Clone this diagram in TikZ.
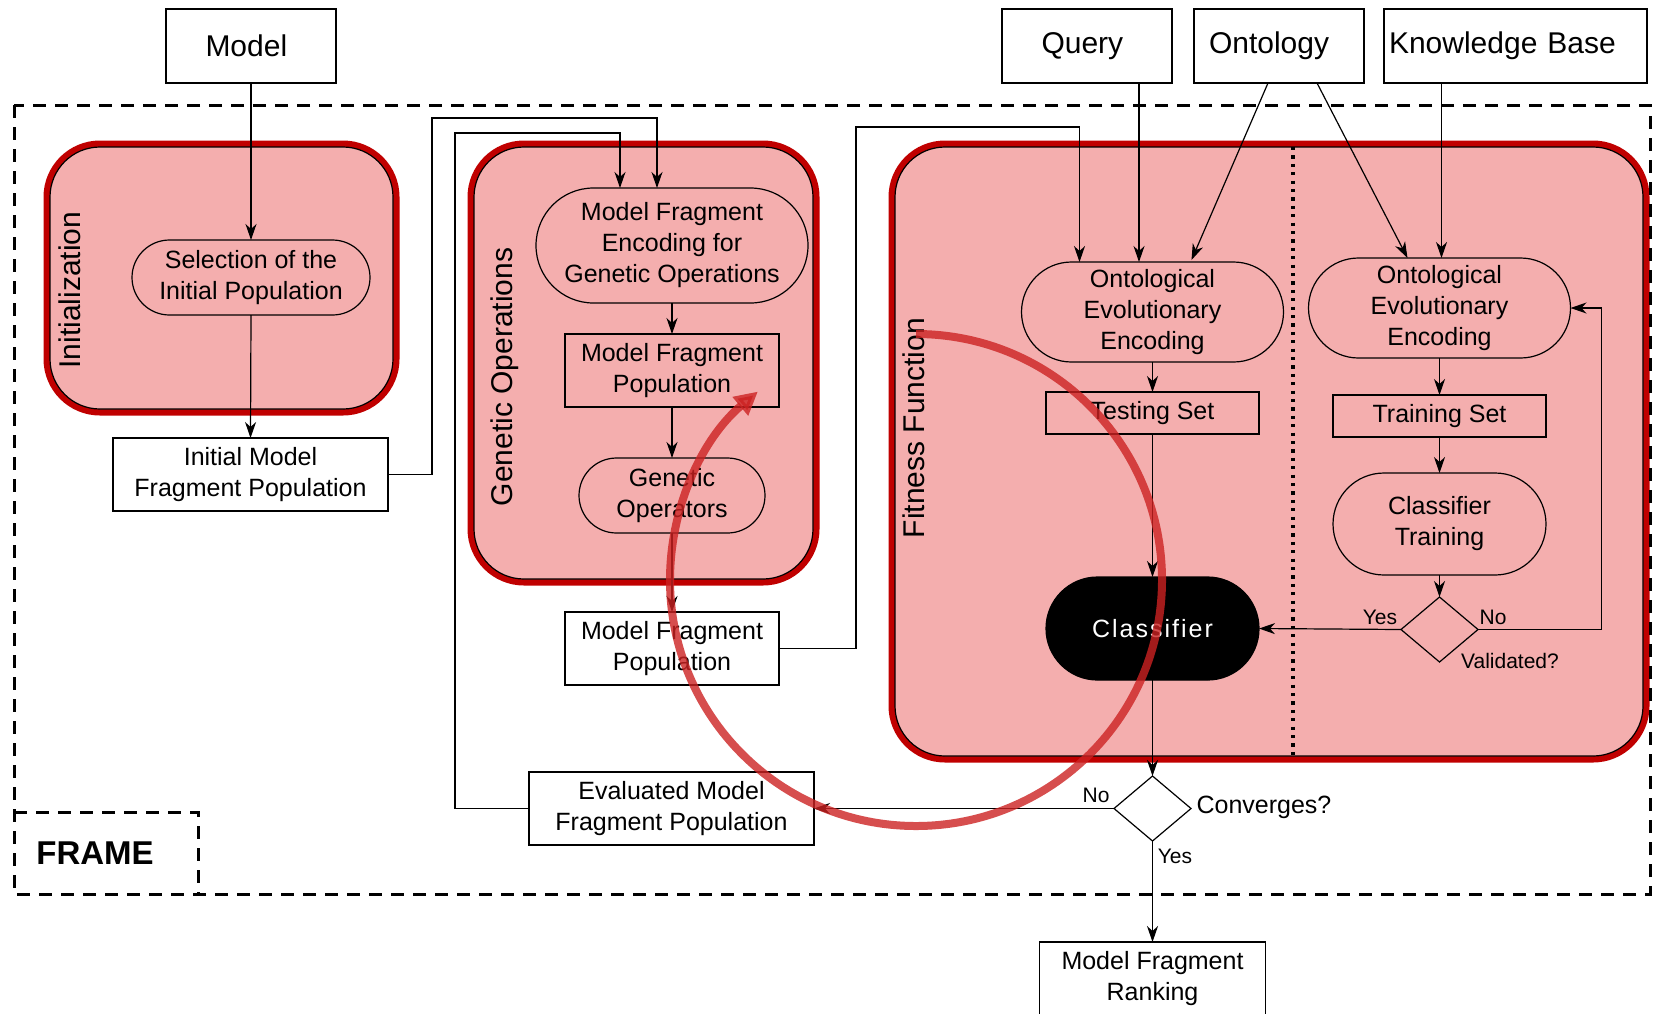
\documentclass[tikz,border=0pt]{standalone}
\usepackage{fontspec}
\setmainfont{Liberation Sans}
\usetikzlibrary{arrows.meta,shapes.geometric,calc}

\definecolor{pinkfill}{RGB}{244,174,174}
\definecolor{boxred}{RGB}{192,0,0}
\definecolor{loopred}{RGB}{204,34,34}

\begin{document}
\begin{tikzpicture}[x=0.5pt,y=-0.5pt,
  every node/.style={inner sep=0pt, outer sep=0pt},
  arr/.style={draw, line width=0.6pt, -{Stealth[length=8pt,width=5.5pt,inset=2.5pt]}},
  body/.style={font=\fontsize{12.5}{15.5}\selectfont, align=center},
  box/.style={body, draw, line width=0.6pt, rectangle},
  term/.style={body, draw, line width=0.6pt, rectangle, rounded corners=#1},
  source/.style={draw, line width=0.6pt, font=\fontsize{15}{18}\selectfont,
    minimum height=37pt, align=left},
  stage/.style={rectangle, rounded corners=25pt, fill=pinkfill, draw=black,
    line width=0.6pt, preaction={draw=boxred, line width=6.5pt}},
  stagelabel/.style={rotate=90, font=\fontsize{15}{18}\selectfont},
  decision/.style={diamond, draw, line width=0.6pt, minimum width=38.5pt,
    minimum height=32.5pt},
  tag/.style={font=\fontsize{10.5}{12}\selectfont},
  framedash/.style={draw, line width=1.5pt, dash pattern=on 6.5pt off 4.5pt},
  divider/.style={draw, line width=1.6pt, dash pattern=on 1.6pt off 2.6pt},
  looparrow/.style={draw=loopred, line width=4pt, opacity=0.8,
    -{Triangle[length=11.5pt,width=11.5pt]}},
]
\useasboundingbox (0,0) rectangle (1653,1013);

% stage containers
\node[stage, minimum width=171.5pt, minimum height=131pt] (initstage) at (221.5,278) {};
\node[stage, minimum width=169.5pt, minimum height=216pt] (genstage) at (643.5,363) {};
\node[stage, minimum width=374pt, minimum height=304.5pt] (fitstage) at (1269,451.5) {};
\node[stagelabel] (initlabel) at (70,290) {Initialization};
\node[stagelabel] (genlabel) at (505,377) {Genetic Operations};
\node[stagelabel] (fitlabel) at (914,428) {Fitness Function};
\draw[divider] (1293,147) -- (1293,756);

% outer frame and its tag
\draw[framedash] (14,105) rectangle (1650,894);
\draw[framedash] (14,812) -- (198,812) -- (198,894);
\node[font=\fontsize{16.5}{20}\selectfont\bfseries] (frametag) at (95,853) {FRAME};

% inputs
\node[source, inner xsep=19.75pt, text width=45.5pt] (model) at (251,46) {Model};
\node[source, inner xsep=19.75pt, text width=45.5pt] (query) at (1087,46) {Query};
\node[source, inner xsep=7.5pt, text width=70pt] (onto) at (1279,46) {Ontology};
\node[source, inner xsep=2.5pt, text width=126.5pt] (kb) at (1515.5,46) {Knowledge Base};

% initialization
\node[term=18.75pt, minimum width=119pt, minimum height=37.5pt] (sel) at (251,277.5)
  {Selection of the\\Initial Population};
\node[box, minimum width=137.5pt, minimum height=36.5pt] (initpop) at (250.5,474.5)
  {Initial Model\\Fragment Population};

% genetic operations
\node[term=28.75pt, minimum width=136pt, minimum height=57.5pt] (enc) at (672,245.5)
  {Model Fragment\\Encoding for\\Genetic Operations};
\node[box, minimum width=107pt, minimum height=36.5pt] (mfpin) at (672,370.5)
  {Model Fragment\\Population};
\node[term=18.75pt, minimum width=93pt, minimum height=37.5pt] (genop) at (672,495.5)
  {Genetic\\Operators};
\node[box, minimum width=107pt, minimum height=36.5pt] (mfpout) at (672,648.5)
  {Model Fragment\\Population};
\node[box, minimum width=142.5pt, minimum height=36.5pt] (evalpop) at (671.5,808.5)
  {Evaluated Model\\Fragment Population};

% fitness function
\node[term=25pt, minimum width=131pt, minimum height=50pt] (enc1) at (1152.5,312)
  {Ontological\\Evolutionary\\Encoding};
\node[term=25pt, minimum width=131pt, minimum height=50pt] (enc2) at (1439.5,308)
  {Ontological\\Evolutionary\\Encoding};
\node[box, minimum width=106.5pt, minimum height=21pt] (test) at (1152.5,413) {Testing Set};
\node[box, minimum width=106.5pt, minimum height=21pt] (train) at (1439.5,416) {Training Set};
\node[term=25.5pt, minimum width=106.5pt, minimum height=51pt] (ctrain) at (1439.5,524)
  {Classifier\\Training};
\node[decision] (valid) at (1439.5,629.5) {};
\node[term=25.75pt, fill=black, text=white, minimum width=106.5pt, minimum height=51.5pt,
  font=\fontsize{12.5}{15}\selectfont\addfontfeatures{LetterSpace=8}] (classifier)
  at (1152.5,628.5) {Classifier};
\node[decision] (conv) at (1152.5,808.5) {};
\node[box, minimum width=113pt, minimum height=36.5pt] (rank) at (1152.5,978.5)
  {Model Fragment\\Ranking};

% branch labels
\node[tag] (validyes) at (1380,617) {Yes};
\node[tag] (validno) at (1493,617) {No};
\node[tag] (validq) at (1510,661) {Validated?};
\node[tag] (convno) at (1096,795) {No};
\node[body] (convq) at (1264,807) {Converges?};
\node[tag] (convyes) at (1175,856) {Yes};

% connectors
\draw[arr] (model.south) -- (sel.north);
\draw[arr] (sel.south) -- (initpop.north);
\draw[arr] (initpop.east) -| (432,118) -| ([xshift=-7.5pt]enc.north);
\draw[arr] (evalpop.west) -| (455,133) -| ([xshift=-26pt]enc.north);
\draw[arr] (enc.south) -- (mfpin.north);
\draw[arr] (mfpin.south) -- (genop.north);
\draw[arr] (genop.south) -- (mfpout.north);
\draw[arr] (mfpout.east) -| (856,127) -| ([xshift=-36.5pt]enc1.north);
\draw[arr] ([xshift=26pt]query.south) -- ([xshift=26pt]query.south |- enc1.north);
\draw[arr] ([xshift=-5.5pt]onto.south) -- ([xshift=19.5pt,yshift=1pt]enc1.north);
\draw[arr] ([xshift=19pt]onto.south) -- ([xshift=-16pt]enc2.north);
\draw[arr] ([xshift=-37pt]kb.south) -- ([xshift=-37pt]kb.south |- enc2.north);
\draw[arr] (enc1.south) -- (test.north);
\draw[arr] (test.south) -- (classifier.north);
\draw[arr] (enc2.south) -- (train.north);
\draw[arr] (train.south) -- (ctrain.north);
\draw[arr] (ctrain.south) -- (valid.north);
\draw[arr] (valid.west) -- (classifier.east);
\draw[arr] (valid.east) -| ($(enc2.east)+(31,0)$) -- (enc2.east);
\draw[arr] (classifier.south) -- (conv.north);
\draw[arr] (conv.west) -- (evalpop.east);
\draw[arr] (conv.south) -- (rank.north);

% evolutionary loop
\draw[looparrow] (916,580) ++(-90:246) arc[start angle=-90, end angle=230, radius=246];
\end{tikzpicture}
\end{document}
